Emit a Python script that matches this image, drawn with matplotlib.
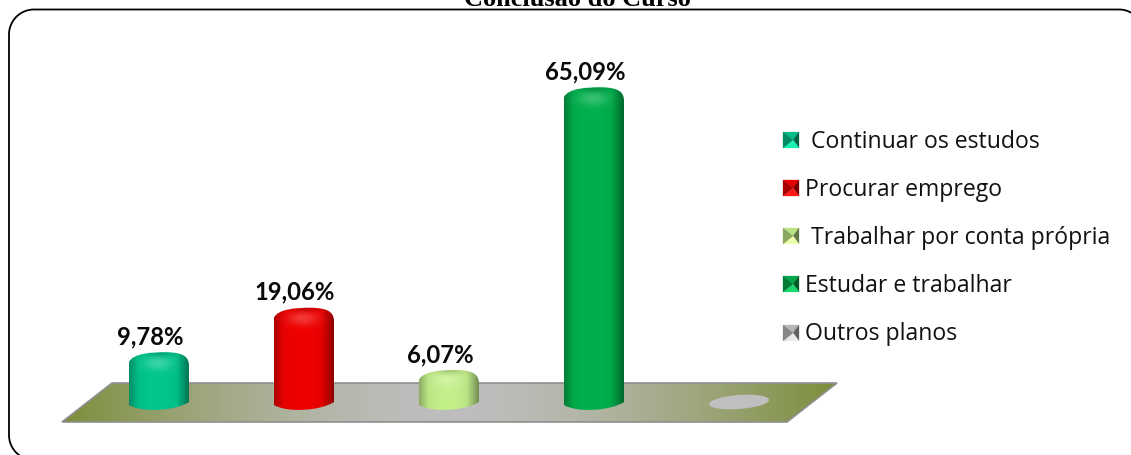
import numpy as np
import matplotlib
matplotlib.use("Agg")
import matplotlib.pyplot as plt
from matplotlib.path import Path
from matplotlib.patches import PathPatch, Polygon
from matplotlib.lines import Line2D
from matplotlib.transforms import Affine2D
from matplotlib.colors import to_rgb

categories = [" Continuar os estudos", "Procurar emprego", " Trabalhar por conta própria",
              "Estudar e trabalhar", "Outros planos"]
values = [9.78, 19.06, 6.07, 65.09, 0.0]
value_labels = ["9,78%", "19,06%", "6,07%", "65,09%", ""]
colors = ["#00C78E", "#F00000", "#C4F08A", "#00B04C", "#BFBFBF"]
title = "Conclusão do Curso"

W, H = 1131, 455
fig = plt.figure(figsize=(W / 100, H / 100), dpi=100, facecolor="white")
ax = fig.add_axes([0, 0, 1, 1])
ax.axis("off")
XLIM = (-159 / 145, (W - 159) / 145)   # category pitch 145 px, first at x=159
YLIM = ((399 - H) / 4.79, 399 / 4.79)  # 4.79 px per percent, zero at y=399


def reset_limits():
    ax.set_xlim(*XLIM)
    ax.set_ylim(*YLIM)


reset_limits()
px = Affine2D().scale(1, -1).translate(0, H)   # pixel transform for decoration


# rounded frame: runs off the right and bottom of the picture, so only its visible part is drawn
def arc(cx, cy, r, a0, a1):
    a = np.radians(np.linspace(a0, a1, 40))
    return np.c_[cx + r * np.cos(a), cy + r * np.sin(a)]


L, T, R, B, r = 9, 9.5, 1144, 460, 25
frame_xy = np.vstack([arc(L + r, B - r, r, 125, 180),
                      arc(L + r, T + r, r, 180, 270),
                      arc(R - r, T + r, r, 270, 300)])
ax.add_line(Line2D(frame_xy[:, 0], frame_xy[:, 1], transform=px, color="black", lw=1.3, zorder=1))
fig.text(577 / W, 1 - 5.5 / H, title, family="Liberation Serif", weight="bold", fontsize=19,
         ha="center", va="baseline", color="black")

# floor with horizontal olive-grey-olive gradient
floor_xy = [(112, 383), (837, 383), (787, 422), (62, 422)]
t = np.linspace(0, 1, 400)
m = np.abs(t - 0.5) * 2
edge = np.array(to_rgb("#7C8E3A"))
mid = np.array(to_rgb("#BEBEBE"))
grad = (mid[None, :] * (1 - m[:, None] ** 1.6) + edge[None, :] * m[:, None] ** 1.6)[None, :, :]
im = ax.imshow(grad, extent=(0, 1, 0, 1),
               transform=Affine2D().scale(775, 39).translate(62, H - 422),
               aspect="auto", zorder=2, interpolation="bilinear")
im.set_clip_path(Polygon(floor_xy, closed=True, transform=px))
ax.add_patch(Polygon(floor_xy, closed=True, transform=px, fc="none", ec="#8f8f8f", lw=1.2, zorder=3))
reset_limits()

WIDTH = 60 / 145
UNIT = 1 / 4.79   # data units per pixel
BX = 1 / 145      # x data units per pixel


def cylinder_path(xc, v):
    """Dome-topped cylinder whose top follows the value v."""
    hw = WIDTH / 2
    top = v
    sh = 14 * UNIT
    yl, yr, yb = -6 * UNIT, -3 * UNIT, -13 * UNIT
    verts = [(xc - hw, yl),
             (xc - hw * 0.6, yb - 0.5 * UNIT), (xc + hw * 0.5, yb + 0.5 * UNIT), (xc + hw, yr),
             (xc + hw, top - sh),
             (xc + hw, top - sh * 0.3), (xc + hw * 0.8, top - 0.5 * UNIT), (xc + hw * 0.25, top),
             (xc - hw * 0.25, top), (xc - hw * 0.85, top - 1 * UNIT), (xc - hw, top - sh * 0.7),
             (xc - hw, yl), (xc - hw, yl)]
    codes = [Path.MOVETO, Path.CURVE4, Path.CURVE4, Path.CURVE4, Path.LINETO,
             Path.CURVE4, Path.CURVE4, Path.CURVE4, Path.CURVE4, Path.CURVE4, Path.CURVE4,
             Path.LINETO, Path.CLOSEPOLY]
    return Path(verts, codes)


def cylinder_image(color, v):
    base = np.array(to_rgb(color))
    nx, ny = 120, 400
    ymin, ymax = -15 * UNIT, v + 1 * UNIT
    xs = np.linspace(-1, 1, nx)
    ys = np.linspace(ymax, ymin, ny)
    X, Y = np.meshgrid(xs, ys)
    shade = (1.0 - 0.12 * np.abs(X + 0.05) ** 2 - 0.28 * np.clip(X - 0.6, 0, None) / 0.4
             - 0.18 * np.clip(-X - 0.7, 0, None) / 0.3)
    img = base[None, None, :] * shade[:, :, None]
    # soft highlight below the top
    hy = v - 11 * UNIT
    glow = np.exp(-((X + 0.03) / 0.5) ** 2 - ((Y - hy) / (7 * UNIT)) ** 2)
    img = img + (1 - img) * glow[:, :, None] * 0.22
    # darker rim on the dome
    cap = np.exp(-((X / 0.45) ** 2) - ((Y - (v - 1.5 * UNIT)) / (3.5 * UNIT)) ** 2)
    img = img * (1 - 0.16 * cap[:, :, None])
    return np.clip(img, 0, 1), (-WIDTH / 2, WIDTH / 2, ymin, ymax)


label_offset = -9 / 145
for i, (v, c, lab) in enumerate(zip(values, colors, value_labels)):
    if v <= 0:
        a = np.linspace(0, 2 * np.pi, 120)
        ex = np.cos(a) * WIDTH / 2
        ey = np.sin(a) * 7 * UNIT + ex / BX * UNIT * 0.07
        ax.add_patch(Polygon(np.c_[i + ex, v - 3 * UNIT + ey], closed=True, fc=c, ec="none", zorder=4))
        continue
    img, (x0, x1, y0, y1) = cylinder_image(c, v)
    art = ax.imshow(img, extent=(i + x0, i + x1, y0, y1), aspect="auto", zorder=4, interpolation="bilinear")
    art.set_clip_path(PathPatch(cylinder_path(i, v), transform=ax.transData))
    ax.text(i + label_offset, v + 15.5 * UNIT, lab, family="Lato", weight="bold", fontsize=17.2,
            ha="center", va="center", color="#0a0a0a", zorder=6)
reset_limits()

# legend with bevelled square keys
leg_y = [140, 188, 236, 284, 333]
for cat, c, y in zip(categories, colors, leg_y):
    c0 = np.array(to_rgb(c))
    x0, x1, y0, y1 = 783, 799, y - 8, y + 8
    xm, ym = x0 + 10, (y0 + y1) / 2
    faces = [([(x0, y0), (x1, y0), (xm, ym)], 0.95),
             ([(x1, y0), (x1, y1), (xm, ym)], 0.5),
             ([(x0, y1), (x1, y1), (xm, ym)], 1.08),
             ([(x0, y0), (x0, y1), (xm, ym)], 0.7)]
    for pts, f in faces:
        col = np.clip(c0 * f + (0.1 if f > 1 else 0), 0, 1)
        ax.add_patch(Polygon(pts, closed=True, transform=px, fc=col, ec=col, lw=0.2, zorder=5))
    ax.text(805, y + 1.5, cat, transform=px, family="Open Sans", fontsize=16.6, va="center", ha="left",
            color="#111111", zorder=6)

fig.savefig("out.png", dpi=100)
